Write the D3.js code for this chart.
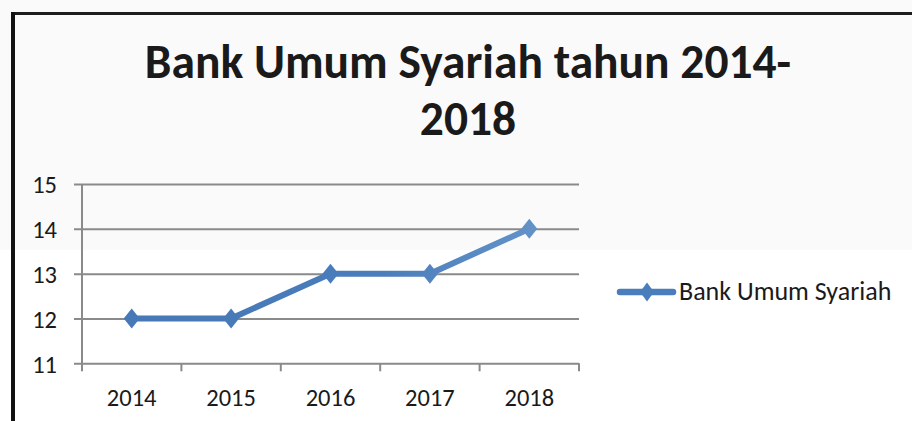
<!DOCTYPE html>
<html>
<head>
<meta charset="utf-8">
<script src="https://cdn.jsdelivr.net/npm/d3@7"></script>
<style>
  html, body { margin: 0; padding: 0; background: #ffffff; }
  svg { display: block; }
</style>
</head>
<body>
<script>
// ---- data ----
const categories = ["2014", "2015", "2016", "2017", "2018"];
const values = [12, 12, 13, 13, 14];
const yTicks = [11, 12, 13, 14, 15];
const seriesName = "Bank Umum Syariah";
const titleLines = ["Bank Umum Syariah tahun 2014-", "2018"];

// ---- layout ----
const W = 912, H = 421;
const FONT = "Carlito, 'Open Sans', sans-serif";
const plot = { left: 82, right: 579, top: 184, bottom: 363.3 };
const blue = "#4a7dbb";

const svg = d3.select("body").append("svg")
  .attr("width", W).attr("height", H);

const defs = svg.append("defs");
const grad = defs.append("linearGradient")
  .attr("id", "lineGrad").attr("gradientUnits", "userSpaceOnUse")
  .attr("x1", plot.left).attr("x2", plot.right).attr("y1", 0).attr("y2", 0);
grad.append("stop").attr("offset", "0").attr("stop-color", "#4677b6");
grad.append("stop").attr("offset", "0.6").attr("stop-color", "#4a7dbb");
grad.append("stop").attr("offset", "1").attr("stop-color", "#6a98cb");

// faint upper band of the scanned page
svg.append("rect").attr("x", 0).attr("y", 0).attr("width", W).attr("height", 250)
  .attr("fill", "#fafafa");

// frame (top and left border of the chart box)
svg.append("line").attr("x1", 11).attr("x2", W).attr("y1", 13.5).attr("y2", 13.5)
  .attr("stroke", "#1e1e1e").attr("stroke-width", 3);
svg.append("line").attr("x1", 13).attr("x2", 13).attr("y1", 12).attr("y2", H)
  .attr("stroke", "#111").attr("stroke-width", 4);

// title
const title = svg.append("text")
  .attr("text-anchor", "middle")
  .attr("font-family", FONT).attr("font-weight", "bold")
  .attr("font-size", 47.5).attr("fill", "#1a1a1a");
titleLines.forEach((t, i) => {
  title.append("tspan").attr("x", 468).attr("y", i === 0 ? 78 : 135).text(t);
});

// scales
const x = d3.scaleBand().domain(categories).range([plot.left, plot.right]);
const y = d3.scaleLinear().domain([d3.min(yTicks), d3.max(yTicks)])
  .range([plot.bottom, plot.top]);
const cx = d => x(d) + x.bandwidth() / 2;

// gridlines + y axis ticks
const yAxis = d3.axisLeft(y).tickValues(yTicks).tickSizeInner(-(plot.right - plot.left))
  .tickSizeOuter(0).tickFormat(d3.format("d"));
const gy = svg.append("g").attr("transform", `translate(${plot.left},0)`).call(yAxis);
gy.select(".domain").remove();
gy.selectAll(".tick line").attr("stroke", "#8a8a8a").attr("stroke-width", 2)
  .attr("x2", plot.right - plot.left).attr("x1", -8);
gy.selectAll(".tick text")
  .attr("x", 57 - plot.left).attr("dy", "0.36em")
  .attr("font-family", FONT).attr("font-size", 24.5).attr("fill", "#1a1a1a");

// y axis line
svg.append("line").attr("x1", plot.left).attr("x2", plot.left)
  .attr("y1", plot.top).attr("y2", plot.bottom + 8)
  .attr("stroke", "#8a8a8a").attr("stroke-width", 2);

// x axis boundary ticks
const boundaries = categories.map(c => x(c) + x.bandwidth());
svg.append("g").selectAll("line").data(boundaries).join("line")
  .attr("x1", d => d).attr("x2", d => d)
  .attr("y1", plot.bottom).attr("y2", plot.bottom + 8)
  .attr("stroke", "#8a8a8a").attr("stroke-width", 2);

// x labels
const xAxis = d3.axisBottom(x).tickSize(0).tickPadding(0);
const gx = svg.append("g").attr("transform", `translate(0,${plot.bottom})`).call(xAxis);
gx.select(".domain").remove();
gx.selectAll(".tick text")
  .attr("y", 406 - plot.bottom).attr("dy", 0)
  .attr("font-family", FONT).attr("font-size", 24.5).attr("fill", "#1a1a1a");

// series line
const line = d3.line().x((d, i) => cx(categories[i])).y(d => y(d));
svg.append("path").datum(values)
  .attr("d", line).attr("fill", "none")
  .attr("stroke", "url(#lineGrad)").attr("stroke-width", 6)
  .attr("stroke-linejoin", "round").attr("stroke-linecap", "round");

// diamond markers
const diamond = (px, py, hw, hh) =>
  `M${px},${py - hh}L${px + hw},${py}L${px},${py + hh}L${px - hw},${py}Z`;
svg.append("g").selectAll("path").data(values).join("path")
  .attr("d", (d, i) => diamond(cx(categories[i]), y(d), 8, 10))
  .attr("fill", "url(#lineGrad)");

// legend
const lg = svg.append("g");
lg.append("line").attr("x1", 620).attr("x2", 673).attr("y1", 292).attr("y2", 292)
  .attr("stroke", blue).attr("stroke-width", 6.5).attr("stroke-linecap", "round");
lg.append("path").attr("d", diamond(647, 292, 7, 9.5)).attr("fill", blue);
lg.append("text").attr("x", 679).attr("y", 300)
  .attr("font-family", FONT).attr("font-size", 26).attr("fill", "#1a1a1a")
  .text(seriesName);
</script>
</body>
</html>
